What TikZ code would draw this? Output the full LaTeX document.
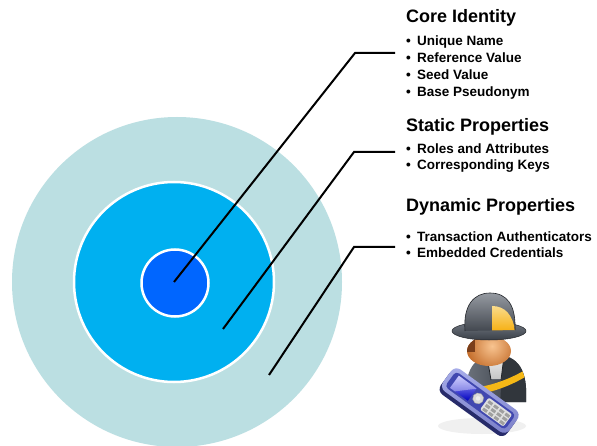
\documentclass[tikz,border=0pt]{standalone}
\usepackage{fontspec}
\setmainfont{Liberation Sans}
\definecolor{ringout}{HTML}{BBDFE2}
\definecolor{ringmid}{HTML}{00B0F0}
\definecolor{ringin}{HTML}{0066FF}
\definecolor{coat}{HTML}{3A3F47}
\definecolor{coatlight}{HTML}{717882}
\definecolor{badge}{HTML}{F5B816}
\definecolor{skin}{HTML}{D9782E}
\definecolor{skinlight}{HTML}{F8C490}
\definecolor{hair}{HTML}{7A3E1A}
\definecolor{phoneblue}{HTML}{4148B0}
\definecolor{phonerim}{HTML}{A8AEEA}
\newcommand\itembullet{\makebox[11pt][l]{•}}
\begin{document}
\begin{tikzpicture}[x=1pt,y=-1pt,
  lead/.style={line width=2pt,line join=miter},
  heading/.style={anchor=base west,inner sep=0pt,font=\bfseries\fontsize{18}{20}\selectfont},
  item/.style={anchor=base west,inner sep=0pt,font=\bfseries\fontsize{13.5}{16}\selectfont},
]
\useasboundingbox (0,0) rectangle (597,446);
\fill[white] (0,0) rectangle (597,446);

% concentric rings
\fill[ringout] (177,282) circle (165);
\filldraw[fill=ringmid, draw=white, line width=2.5pt] (174,282) circle (100);
\filldraw[fill=ringin, draw=white, line width=2.5pt] (175,283) circle (33.5);

% leader points
\coordinate (p1) at (174,282);
\coordinate (k1) at (355,53);
\coordinate (t1) at (395,53);
\coordinate (p2) at (223,329);
\coordinate (k2) at (354,152);
\coordinate (t2) at (395,152);
\coordinate (p3) at (269,375);
\coordinate (k3) at (354,247);
\coordinate (t3) at (395,247);
\draw[lead] (p1) -- (k1) -- (t1);
\draw[lead] (p2) -- (k2) -- (t2);
\draw[lead] (p3) -- (k3) -- (t3);

% labels
\node[heading] (h1) at (406,23) {Core Identity};
\node[item] (a1) at (406,46) {\itembullet Unique Name};
\node[item] (a2) at (406,63) {\itembullet Reference Value};
\node[item] (a3) at (406,80) {\itembullet Seed Value};
\node[item] (a4) at (406,97) {\itembullet Base Pseudonym};

\node[heading] (h2) at (406,132) {Static Properties};
\node[item] (b1) at (406,154) {\itembullet Roles and Attributes};
\node[item] (b2) at (406,170) {\itembullet Corresponding Keys};

\node[heading] (h3) at (406,212) {Dynamic Properties};
\node[item] (c1) at (406,242) {\itembullet Transaction Authenticators};
\node[item] (c2) at (406,258) {\itembullet Embedded Credentials};

% firefighter with phone
\fill[black!6] (482,426) ellipse (44 and 8);
% torso
\begin{scope}
  \clip (466,402) .. controls (464,370) and (474,355) .. (496,355)
    .. controls (518,355) and (528,370) .. (526,402) -- cycle;
  \shade[left color=coatlight, right color=coat!80!black] (460,350) rectangle (530,405);
  \fill[coat!85!black] (503,355) -- (530,355) -- (530,405) -- (500,405) -- cycle;
  % reflective stripe
  \fill[badge] (462,389) .. controls (485,388) and (508,381) .. (530,367)
    -- (530,374) .. controls (508,388) and (485,395) .. (462,396) -- cycle;
  % collar
  \shade[top color=gray!15, bottom color=gray!45]
    (487,356) -- (504,356) -- (501,379) -- (491,379) -- cycle;
  \draw[coat!60!black, line width=0.8pt] (487,356) -- (491,380) (504,356) -- (501,380);
\end{scope}
% face
\begin{scope}
  \clip (489,351) ellipse (22 and 15);
  \shade[inner color=skinlight, outer color=skin!90!black] (492,346) circle (26);
  \fill[hair] (462,330) rectangle (475,352);
\end{scope}
% helmet brim
\shade[top color=coatlight, bottom color=coat] (489,331) ellipse (37 and 9);
\draw[coat!60!black, line width=0.5pt] (489,331) ellipse (37 and 9);
% helmet dome
\begin{scope}
  \clip (465,331) .. controls (463,305) and (474,293) .. (490,293)
    .. controls (507,293) and (516,305) .. (515,330) -- cycle;
  \shade[top color=coatlight!70!white, bottom color=coat]
    (460,290) rectangle (520,335);
  \shade[top color=badge!50!white, bottom color=badge!85!orange]
    (492,306) .. controls (505,306) and (513,315) .. (515,331) -- (492,331) -- cycle;
\end{scope}
\draw[coat!60!black, line width=0.6pt]
  (465,331) .. controls (463,305) and (474,293) .. (490,293)
  .. controls (507,293) and (516,305) .. (515,330);
% phone
\begin{scope}[shift={(480,401)}, rotate=-36]
  \fill[phoneblue!60!black, rounded corners=7pt] (-41,-11) rectangle (41,17);
  \shade[top color=phonerim, bottom color=phoneblue!70, rounded corners=7pt]
    (-41,-14) rectangle (41,13);
  \fill[phoneblue, rounded corners=4pt] (-37,-10) rectangle (37,9);
  \shade[top color=blue!30!white, bottom color=blue!75!black] (-32,-8) rectangle (-10,7);
  \fill[white, opacity=0.35] (-32,-8) -- (-10,-8) -- (-26,7) -- (-32,7) -- cycle;
  \filldraw[fill=gray!30, draw=gray!70] (-3,-1) circle (5.5);
  \fill[gray!15] (-3,-1) circle (2.3);
  \fill[gray!25, rounded corners=2pt] (5,-8) rectangle (34,7);
  \foreach \i in {0,...,3}
    \foreach \j in {0,1,2}
      \fill[gray!75] (7+\i*7,-6+\j*4.5) rectangle (12+\i*7,-3+\j*4.5);
\end{scope}
\end{tikzpicture}
\end{document}
